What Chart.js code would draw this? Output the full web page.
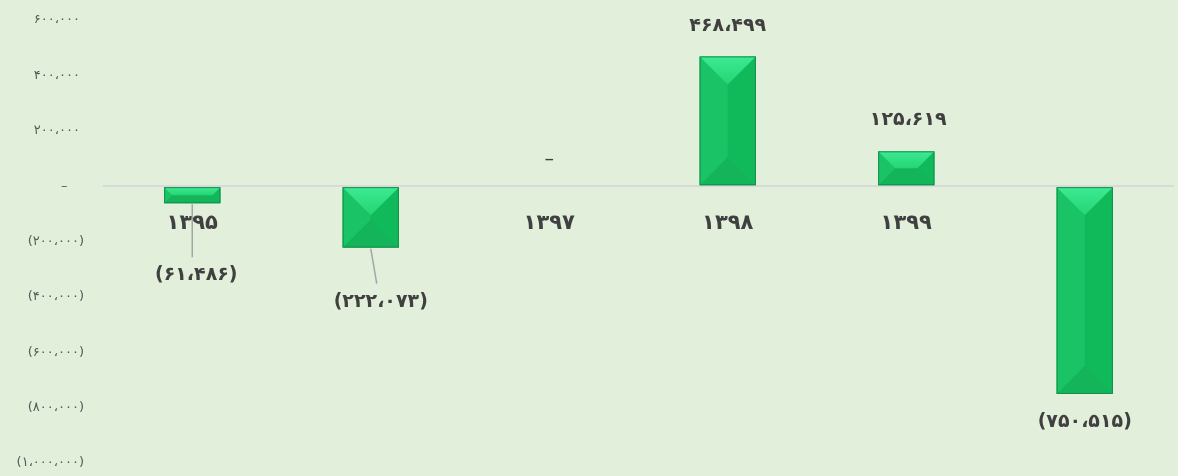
<!DOCTYPE html>
<html>
<head>
<meta charset="utf-8">
<script src="https://cdn.jsdelivr.net/npm/chart.js@4/dist/chart.umd.min.js"></script>
<style>
html, body { margin: 0; padding: 0; background: #E2EFDA; }
canvas { display: block; }
</style>
</head>
<body>
<canvas id="barChart" width="1178" height="476"></canvas>
<script>
// data
let years = ['۱۳۹۵', '۱۳۹۶', '۱۳۹۷', '۱۳۹۸', '۱۳۹۹', '۱۴۰۰'];
let values = [-61486, -222073, 0, 468499, 125619, -750515];
let yMin = -1000000, yMax = 600000, yStep = 200000;

// where each value label sits, in px from the bar end (style only)
let labelShift = [
  { dx: 4, dy: 72, leader: true, lineDx: 0 },
  { dx: 10, dy: 54, leader: true, lineDx: 6 },
  { dx: 0, dy: -28, leader: false },
  { dx: 0, dy: -30, leader: false },
  { dx: 2, dy: -31, leader: false },
  { dx: 0, dy: 28, leader: false }
];

let faDigits = '۰۱۲۳۴۵۶۷۸۹';

function toFa(n) {
  if (n === 0) return '–';
  let s = Math.abs(n).toString().replace(/\B(?=(\d{3})+(?!\d))/g, '،');
  s = s.replace(/\d/g, d => faDigits[d]);
  return n < 0 ? '(' + s + ')' : s;
}

// excel accounting style: room for ")" on positives, dash sits further in
function tickFa(n) {
  if (n === 0) return '–    ';
  return n > 0 ? toFa(n) + ' ' : toFa(n);
}

function facet(ctx, pts, fill) {
  ctx.beginPath();
  ctx.moveTo(pts[0][0], pts[0][1]);
  for (let i = 1; i < pts.length; i++) ctx.lineTo(pts[i][0], pts[i][1]);
  ctx.closePath();
  ctx.fillStyle = fill;
  ctx.fill();
}

// draws the bevel look on the bars + the value labels
let bevelPlugin = {
  id: 'bevel',
  afterDatasetsDraw(chart) {
    let ctx = chart.ctx;
    let meta = chart.getDatasetMeta(0);
    ctx.save();
    meta.data.forEach((bar, i) => {
      let p = bar.getProps(['x', 'y', 'base', 'width'], true);
      let L = p.x - p.width / 2, R = p.x + p.width / 2;
      let T = Math.min(p.y, p.base), B = Math.max(p.y, p.base);
      if (B - T >= 1) {
        let d = Math.min((R - L) / 2, (B - T) / 2);
        facet(ctx, [[L, B], [R, B], [R - d, B - d], [L + d, B - d]], '#14B45B');
        facet(ctx, [[L, T], [L + d, T + d], [L + d, B - d], [L, B]], '#1AC466');
        facet(ctx, [[R, T], [R - d, T + d], [R - d, B - d], [R, B]], '#10B95A');
        if (B - T > 2 * d) {
          ctx.fillStyle = '#15BE5F';
          ctx.fillRect(L + d, T + d, R - L - 2 * d, B - T - 2 * d);
        }
        let g = ctx.createLinearGradient(0, T, 0, T + d);
        g.addColorStop(0, '#3CEB92');
        g.addColorStop(1, '#25D474');
        facet(ctx, [[L, T], [R, T], [R - d, T + d], [L + d, T + d]], g);
        ctx.strokeStyle = '#178E4B';
        ctx.lineWidth = 1;
        ctx.strokeRect(L + 0.5, T + 0.5, R - L - 1, B - T - 1);
      }

      // value label
      let v = values[i];
      let sh = labelShift[i];
      let endY = v < 0 ? B : T;
      let lx = p.x + sh.dx, ly = endY + sh.dy;
      if (sh.leader) {
        ctx.beginPath();
        ctx.moveTo(p.x, endY + 1);
        ctx.lineTo(p.x + sh.lineDx, ly - 18);
        ctx.strokeStyle = '#A6A6A6';
        ctx.lineWidth = 1.5;
        ctx.stroke();
      }
      ctx.fillStyle = '#404040';
      ctx.font = v === 0 ? '19px "DejaVu Sans"' : 'bold 19px "DejaVu Sans"';
      ctx.textAlign = 'center';
      ctx.textBaseline = 'middle';
      ctx.fillText(toFa(v), lx, v === 0 ? ly + 2 : ly);
    });
    ctx.restore();
  }
};

let ctx = document.getElementById('barChart').getContext('2d');
let chart = new Chart(ctx, {
  type: 'bar',
  data: {
    labels: years,
    datasets: [{
      data: values,
      backgroundColor: '#15BE5F',
      borderWidth: 0,
      barPercentage: 1,
      categoryPercentage: 0.315
    }]
  },
  plugins: [bevelPlugin],
  options: {
    responsive: false,
    animation: false,
    devicePixelRatio: 1,
    layout: { padding: { top: 20, bottom: 13, right: 4, left: 0 } },
    plugins: { legend: { display: false }, tooltip: { enabled: false } },
    scales: {
      x: {
        position: { y: 0 },
        z: 1,
        offset: true,
        grid: { display: false, drawTicks: false },
        border: { display: false },
        ticks: {
          color: '#404040',
          padding: 25,
          maxRotation: 0,
          font: { family: 'DejaVu Sans', size: 21, weight: 'bold' }
        }
      },
      y: {
        min: yMin,
        max: yMax,
        afterFit: s => { s.width = 103; },
        border: { display: false },
        grid: {
          drawTicks: true,
          tickLength: 16,
          tickColor: 'rgba(0,0,0,0)',
          lineWidth: 2,
          color: c => (c.tick && c.tick.value === 0) ? '#D9D9D9' : 'rgba(0,0,0,0)'
        },
        ticks: {
          stepSize: yStep,
          padding: 3,
          color: '#595959',
          font: { family: 'DejaVu Sans', size: 13 },
          callback: v => tickFa(v)
        }
      }
    }
  }
});
</script>
</body>
</html>
